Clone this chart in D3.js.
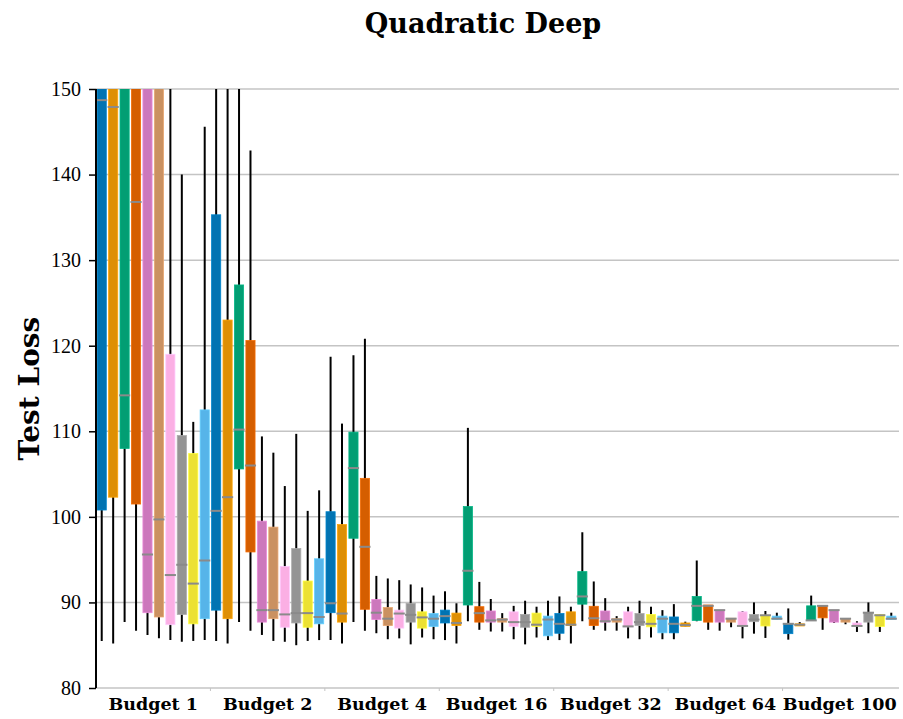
<!DOCTYPE html>
<html>
<head>
<meta charset="utf-8">
<script src="https://cdn.jsdelivr.net/npm/d3@7"></script>
<style>
  body { margin: 0; background: #fff; }
  text { font-family: "DejaVu Serif", serif; }
</style>
</head>
<body>
<div id="chart"></div>
<script>
// group labels and series colours
const budgets = ["Budget 1", "Budget 2", "Budget 4", "Budget 16", "Budget 32", "Budget 64", "Budget 100"];
const colors = ["#0173b2", "#de8f05", "#029e73", "#d55e00", "#cc78bc",
                "#ca9161", "#fbafe4", "#949494", "#ece133", "#56b4e9"];
const yTicks = [80, 90, 100, 110, 120, 130, 140, 150];

// box stats, one row per budget, one column per series
const whiskerLow = [
  [85.5, 85.2, 87.7, 86.7, 86.2, 85.8, 85.6, 85.4, 85.5, 85.6],
  [85.5, 85.2, 87.7, 86.7, 86.2, 85.5, 85.4, 85.0, 85.5, 85.6],
  [85.6, 85.2, 87.7, 86.7, 86.4, 85.7, 85.8, 85.1, 85.9, 85.7],
  [85.6, 85.2, 87.8, 86.8, 86.6, 86.6, 85.7, 85.1, 85.9, 85.6],
  [85.6, 85.2, 87.8, 86.8, 86.7, 86.7, 85.8, 85.7, 85.9, 85.7],
  [85.7, 87.2, 87.8, 86.8, 86.7, 87.1, 85.8, 86.35, 85.85, 88.0],
  [85.65, 87.25, 87.9, 86.8, 87.6, 87.45, 86.55, 86.4, 86.55, 88.0]
];
const q1 = [
  [100.8, 102.3, 108.0, 101.5, 88.8, 88.3, 87.4, 88.6, 87.5, 88.1],
  [89.1, 88.1, 105.6, 95.9, 87.7, 88.1, 87.1, 87.6, 87.1, 87.5],
  [88.8, 87.7, 97.5, 89.2, 88.0, 87.3, 87.0, 87.7, 87.0, 87.2],
  [87.6, 87.3, 89.7, 87.7, 87.7, 87.7, 87.2, 87.1, 87.2, 86.1],
  [86.4, 87.3, 89.8, 87.3, 87.7, 87.7, 87.15, 87.3, 87.15, 86.45],
  [86.45, 87.2, 87.9, 87.7, 87.7, 87.7, 87.25, 87.75, 87.25, 88.0],
  [86.35, 87.25, 87.9, 88.2, 87.7, 87.7, 87.25, 87.7, 87.2, 88.0]
];
const median = [
  [148.7, 147.9, 114.2, 136.8, 95.6, 99.7, 93.2, 94.4, 92.2, 94.9],
  [100.7, 102.3, 110.2, 106.0, 89.1, 89.1, 88.6, 88.75, 88.75, 88.3],
  [89.9, 88.7, 105.7, 96.5, 88.8, 88.1, 88.7, 88.55, 88.25, 88.1],
  [88.4, 87.6, 93.7, 88.75, 87.9, 88.0, 87.7, 87.7, 87.4, 88.0],
  [87.5, 87.4, 90.7, 88.15, 87.8, 88.0, 87.2, 87.7, 87.5, 88.1],
  [87.5, 87.35, 89.6, 89.6, 89.1, 88.1, 87.25, 88.0, 88.5, 88.1],
  [87.5, 87.4, 87.9, 89.6, 89.1, 88.1, 87.25, 88.8, 88.5, 88.1]
];
const q3 = [
  [165, 162, 158, 160, 155, 157, 119.0, 109.5, 107.4, 112.5],
  [135.3, 123.0, 127.1, 120.6, 99.5, 98.8, 94.2, 96.3, 92.5, 95.1],
  [100.6, 99.1, 109.9, 104.5, 90.35, 89.4, 89.1, 89.9, 88.9, 88.7],
  [89.1, 88.75, 101.2, 89.5, 89.0, 88.1, 88.9, 88.6, 88.75, 88.4],
  [88.7, 88.9, 93.6, 89.55, 89.0, 88.1, 88.9, 88.7, 88.6, 88.4],
  [88.3, 87.6, 90.7, 89.7, 89.1, 88.15, 88.9, 88.6, 88.5, 88.4],
  [87.5, 87.5, 89.6, 89.65, 89.1, 88.1, 87.6, 88.8, 88.6, 88.4]
];
const whiskerHigh = [
  [185, 180, 175, 178, 172, 174, 160, 140.0, 111.1, 145.6],
  [165, 160, 162, 142.8, 109.4, 107.5, 103.6, 109.7, 100.7, 103.1],
  [118.7, 110.9, 118.9, 120.8, 93.1, 92.8, 92.6, 92.1, 91.75, 90.8],
  [91.3, 89.9, 110.4, 92.4, 90.4, 88.75, 89.6, 90.2, 89.5, 90.2],
  [90.7, 89.5, 98.2, 92.45, 90.5, 88.4, 89.5, 90.2, 89.5, 89.1],
  [89.8, 87.75, 94.9, 89.7, 89.1, 88.15, 89.0, 90.0, 89.0, 88.8],
  [89.3, 87.7, 90.8, 89.65, 89.1, 88.1, 87.8, 90.0, 88.6, 88.8]
];

const width = 903, height = 719;
const margin = {top: 89, right: 6, bottom: 31, left: 96};

const svg = d3.select("#chart").append("svg")
  .attr("width", width)
  .attr("height", height);

const x = d3.scaleBand()
  .domain(budgets)
  .range([margin.left, width - margin.right])
  .paddingInner(0).paddingOuter(0);

const xInner = d3.scaleBand()
  .domain(d3.range(colors.length))
  .range([0, x.bandwidth()])
  .paddingInner(0.2)
  .paddingOuter(0.1);

const y = d3.scaleLinear()
  .domain([80, 150])
  .range([height - margin.bottom, margin.top]);

svg.append("clipPath").attr("id", "plot-clip")
  .append("rect")
  .attr("x", margin.left)
  .attr("y", margin.top)
  .attr("width", width - margin.left)
  .attr("height", height - margin.top - margin.bottom);

// grid lines
svg.append("g").selectAll("line")
  .data(yTicks)
  .enter()
  .append("line")
    .attr("x1", margin.left)
    .attr("x2", width - 4)
    .attr("y1", d => y(d))
    .attr("y2", d => y(d))
    .attr("stroke", "#c4c4c4")
    .attr("stroke-width", 1.5);

// flatten stats into one record per box
const boxes = [];
budgets.forEach((b, g) => {
  colors.forEach((c, i) => {
    boxes.push({
      budget: b, i: i, color: c,
      lo: whiskerLow[g][i], q1: q1[g][i], med: median[g][i],
      q3: q3[g][i], hi: whiskerHigh[g][i]
    });
  });
});

const cx = d => x(d.budget) + xInner(d.i) + xInner.bandwidth() / 2;
const bw = xInner.bandwidth();

const plot = svg.append("g").attr("clip-path", "url(#plot-clip)");

// whiskers
plot.selectAll("line.whisker")
  .data(boxes)
  .enter()
  .append("line")
    .attr("class", "whisker")
    .attr("x1", cx).attr("x2", cx)
    .attr("y1", d => y(d.lo))
    .attr("y2", d => y(d.hi))
    .attr("stroke", "#000")
    .attr("stroke-width", 2);

// boxes
plot.selectAll("rect.box")
  .data(boxes)
  .enter()
  .append("rect")
    .attr("class", "box")
    .attr("x", d => cx(d) - bw / 2)
    .attr("width", bw)
    .attr("y", d => y(d.q3))
    .attr("height", d => Math.max(1, y(d.q1) - y(d.q3)))
    .attr("fill", d => d.color)
    .attr("stroke", d => d3.color(d.color).brighter(0.4))
    .attr("stroke-width", 0.8);

// medians
plot.selectAll("line.median")
  .data(boxes)
  .enter()
  .append("line")
    .attr("class", "median")
    .attr("x1", d => cx(d) - bw / 2 - 1)
    .attr("x2", d => cx(d) + bw / 2 + 1)
    .attr("y1", d => y(d.med))
    .attr("y2", d => y(d.med))
    .attr("stroke", "#8a8a8a")
    .attr("stroke-width", 2);

// left spine + ticks
const yAxis = svg.append("g")
  .attr("transform", `translate(${margin.left},0)`)
  .call(d3.axisLeft(y).tickValues(yTicks).tickSize(7).tickPadding(8));
yAxis.select(".domain").attr("stroke-width", 2).attr("d", `M0,${y(150)}V${y(80)}`);
yAxis.selectAll(".tick line").attr("stroke-width", 1.5);
yAxis.selectAll(".tick text")
  .style("font-family", "'Liberation Serif', serif")
  .style("font-size", "20px")
  .attr("fill", "#000");

// group labels
svg.append("g").selectAll("text")
  .data(budgets)
  .enter()
  .append("text")
    .attr("x", d => x(d) + x.bandwidth() / 2)
    .attr("y", height - 9)
    .attr("text-anchor", "middle")
    .style("font-size", "17.5px")
    .style("font-weight", "bold")
    .text(d => d);

// small ticks at group boundaries on bottom line
svg.append("g").selectAll("line")
  .data(budgets.slice(1))
  .enter()
  .append("line")
    .attr("x1", d => x(d)).attr("x2", d => x(d))
    .attr("y1", y(80)).attr("y2", y(80) + 3)
    .attr("stroke", "#c4c4c4");

// title
svg.append("text")
  .attr("x", 483)
  .attr("y", 33)
  .attr("text-anchor", "middle")
  .style("font-size", "27px")
  .style("font-weight", "bold")
  .text("Quadratic Deep");

// y label
svg.append("text")
  .attr("transform", `translate(39,${(y(80) + y(150)) / 2}) rotate(-90)`)
  .attr("text-anchor", "middle")
  .style("font-size", "28px")
  .style("font-weight", "bold")
  .text("Test Loss");
</script>
</body>
</html>
